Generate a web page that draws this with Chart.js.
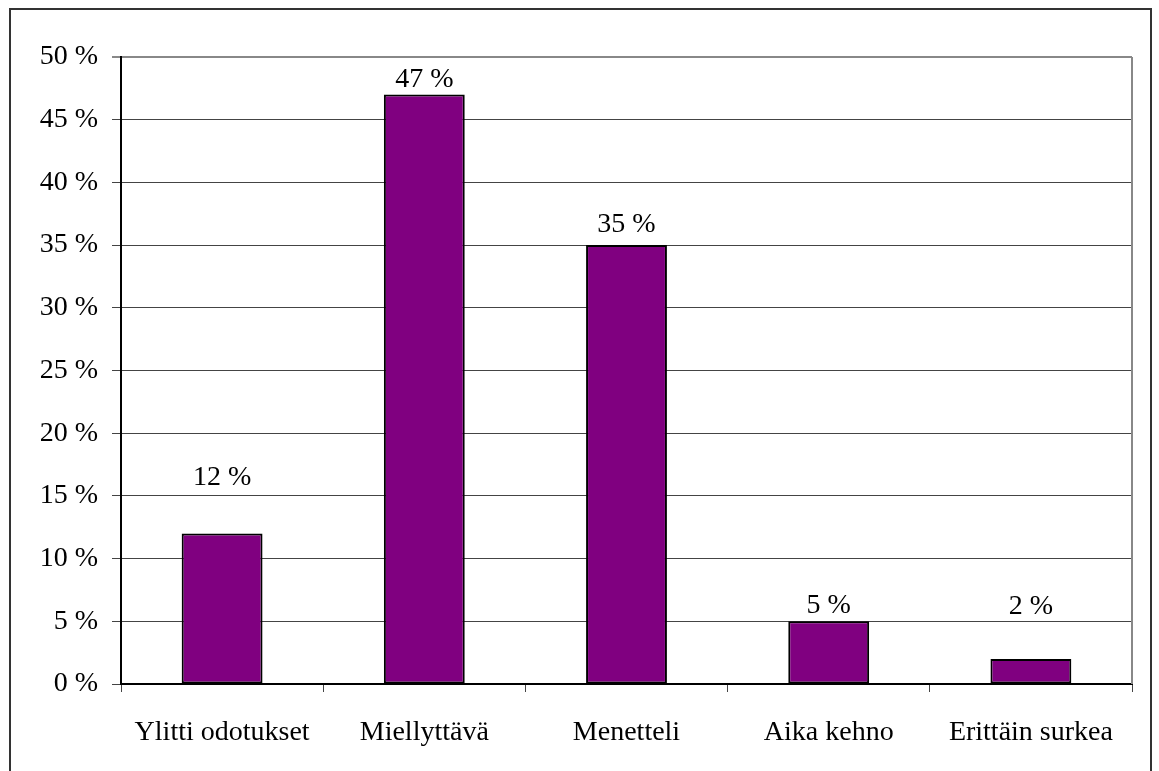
<!DOCTYPE html>
<html>
<head>
<meta charset="utf-8">
<script src="https://cdn.jsdelivr.net/npm/chart.js@4"></script>
<style>
  html, body { margin: 0; padding: 0; background: #fff; overflow: hidden; }
  #wrap { position: relative; width: 1159px; height: 771px; }
  #frame { position: absolute; left: 9px; top: 8px; width: 1139px; height: 800px;
           border: 2px solid #333; pointer-events: none; }
</style>
</head>
<body>
<div id="wrap">
  <canvas id="myChart" width="1159" height="771"></canvas>
  <div id="frame"></div>
</div>
<script>
// Chart values
const categories = ['Ylitti odotukset', 'Miellyttävä', 'Menetteli', 'Aika kehno', 'Erittäin surkea'];
const shares = [12, 47, 35, 5, 2];
const yTicks = [0, 5, 10, 15, 20, 25, 30, 35, 40, 45, 50];

const font = { family: '"Liberation Serif", "DejaVu Serif", serif', size: 28 };

// value labels over the bars (some sit higher, as in the original)
const barLabels = {
  id: 'barLabels',
  afterDatasetsDraw(chart, args, opts) {
    const ctx = chart.ctx;
    const meta = chart.getDatasetMeta(0);
    ctx.save();
    ctx.font = font.size + 'px ' + font.family;
    ctx.fillStyle = '#000';
    ctx.textAlign = 'center';
    ctx.textBaseline = 'alphabetic';
    meta.data.forEach((bar, i) => {
      ctx.fillText(shares[i] + ' %', bar.x, bar.y - opts.lift[i]);
    });
    ctx.restore();
  }
};

// right edge of the plot area
const plotEdge = {
  id: 'plotEdge',
  afterDraw(chart) {
    const { ctx, chartArea } = chart;
    ctx.save();
    ctx.strokeStyle = '#888';
    ctx.lineWidth = 2;
    ctx.beginPath();
    ctx.moveTo(chartArea.right, chartArea.top);
    ctx.lineTo(chartArea.right, chartArea.bottom);
    ctx.stroke();
    ctx.restore();
  }
};

const myChart = new Chart(document.getElementById('myChart'), {
  type: 'bar',
  data: {
    labels: categories,
    datasets: [{
      data: shares,
      backgroundColor: '#800080',
      borderColor: '#000',
      borderWidth: 2,
      borderSkipped: false,
      barPercentage: 0.4,
      categoryPercentage: 1.0
    }]
  },
  options: {
    responsive: false,
    animation: false,
    layout: { padding: { top: 57, right: 27, left: 0, bottom: 0 } },
    plugins: {
      legend: { display: false },
      tooltip: { enabled: false },
      barLabels: { lift: [49, 8, 13, 8, 45] }
    },
    scales: {
      y: {
        min: 0,
        max: 50,
        afterBuildTicks(axis) { axis.ticks = yTicks.map(v => ({ value: v })); },
        afterFit(axis) { axis.width = 121; },
        ticks: {
          color: '#000',
          font: font,
          padding: 14,
          callback: v => v + ' %'
        },
        grid: {
          color: ctx => ctx.tick && ctx.tick.value === 50 ? '#888' : '#444',
          lineWidth: ctx => ctx.tick && ctx.tick.value === 50 ? 2 : 1,
          tickLength: 9
        },
        border: { color: '#000', width: 2 }
      },
      x: {
        afterFit(axis) { axis.height = 87; },
        ticks: { color: '#000', font: font, padding: 24 },
        grid: {
          offset: true,
          drawOnChartArea: false,
          color: '#444',
          tickLength: 8
        },
        border: { color: '#000', width: 2 }
      }
    }
  },
  plugins: [barLabels, plotEdge]
});
</script>
</body>
</html>
